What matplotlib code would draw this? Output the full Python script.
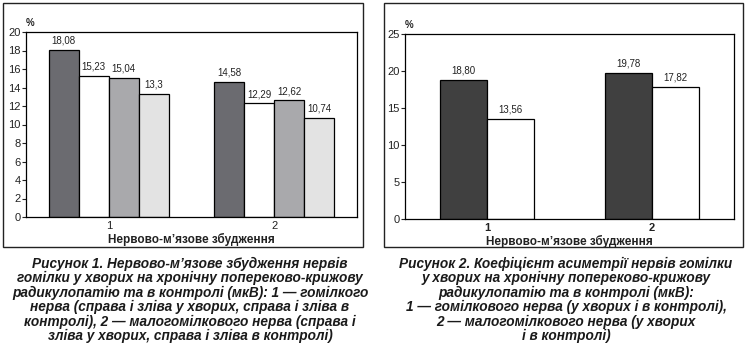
import numpy as np
import matplotlib.pyplot as plt
from matplotlib.patches import Rectangle

plt.rcParams['font.family'] = ['Liberation Sans', 'DejaVu Sans']

# Figure 1: nerve excitation, 4 series per nerve
groups = ['1', '2']
left_series = [
    [18.08, 14.58],   # right side, patients
    [15.23, 12.29],   # left side, patients
    [15.04, 12.62],   # right side, control
    [13.30, 10.74],   # left side, control
]
left_labels = [['18,08', '14,58'], ['15,23', '12,29'], ['15,04', '12,62'], ['13,3', '10,74']]
left_colors = ['#6b6b70', '#ffffff', '#a9a9ac', '#e3e3e3']

# Figure 2: asymmetry coefficient, patients vs control
right_series = [
    [18.80, 19.78],
    [13.56, 17.82],
]
right_labels = [['18,80', '19,78'], ['13,56', '17,82']]
right_colors = ['#404040', '#ffffff']

xlabel = 'Нервово-м’язове збудження'

caption1 = [
    'Рисунок 1. Нервово-м’язове збудження нервів',
    'гомілки у хворих на хронічну попереково-крижову',
    'радикулопатію та в контролі (мкВ): 1 — гомілкого',
    'нерва (справа і зліва у хворих, справа і зліва в',
    'контролі), 2 — малогомілкового нерва (справа і',
    'зліва у хворих, справа і зліва в контролі)',
]
caption2 = [
    'Рисунок 2. Коефіцієнт асиметрії нервів гомілки',
    'у хворих на хронічну попереково-крижову',
    'радикулопатію та в контролі (мкВ):',
    '1 — гомілкового нерва (у хворих і в контролі),',
    '2 — малогомілкового нерва (у хворих',
    'і в контролі)',
]

W, H = 747, 343
fig = plt.figure(figsize=(W / 100, H / 100), dpi=100)


def px_axes(x0, y0, x1, y1):
    return fig.add_axes([x0 / W, 1 - y1 / H, (x1 - x0) / W, (y1 - y0) / H])


def draw_panel(ax, series, labels, colors, width, ymax, ystep, bold_ticks):
    x = np.arange(1, len(groups) + 1)
    n = len(series)
    for i, (vals, labs, c) in enumerate(zip(series, labels, colors)):
        pos = x + (i - (n - 1) / 2) * width
        ax.bar(pos, vals, width, color=c, edgecolor='black', linewidth=0.9, zorder=2)
        for p, v, t in zip(pos, vals, labs):
            ax.annotate(t, (p, v), xytext=(0, 3), textcoords='offset points',
                        ha='center', va='bottom', fontsize=7, color='#222222')
    ax.set_xlim(0.5, 2.5)
    ax.set_ylim(0, ymax)
    ax.set_yticks(np.arange(0, ymax + 0.1, ystep))
    ax.set_xticks(x)
    ax.set_xticklabels(groups, fontsize=8, fontweight='bold' if bold_ticks else 'normal')
    ax.tick_params(axis='y', labelsize=8, length=3, width=0.8, pad=1, colors='#222222')
    ax.tick_params(axis='x', length=0, pad=3, colors='#222222')
    for s in ax.spines.values():
        s.set_linewidth(0.9)
    ax.set_xlabel(xlabel, fontsize=8.5, fontweight='bold', labelpad=1, color='#222222')
    ax.text(0.0, 1.02, '%', transform=ax.transAxes, fontsize=7, fontweight='bold',
            ha='left', va='bottom', color='#222222')


ax1 = px_axes(26, 32, 357, 217)
draw_panel(ax1, left_series, left_labels, left_colors, 0.182, 20, 2, False)

ax2 = px_axes(405, 34, 734, 219)
draw_panel(ax2, right_series, right_labels, right_colors, 0.285, 25, 5, True)

# frames around both charts
for x0, x1 in [(3, 363), (384, 743)]:
    fig.patches.append(Rectangle((x0 / W, 1 - 247 / H), (x1 - x0) / W, 244 / H,
                                 transform=fig.transFigure, fill=False,
                                 edgecolor='#222222', linewidth=1.0))

# captions
for lines, cx in [(caption1, 190), (caption2, 566)]:
    for k, line in enumerate(lines):
        fig.text(cx / W, 1 - (264 + 14.4 * k) / H, line, ha='center', va='center',
                 fontsize=9.8, fontweight='bold', fontstyle='italic', color='#1a1a1a')

fig.savefig('out.png', dpi=100)
